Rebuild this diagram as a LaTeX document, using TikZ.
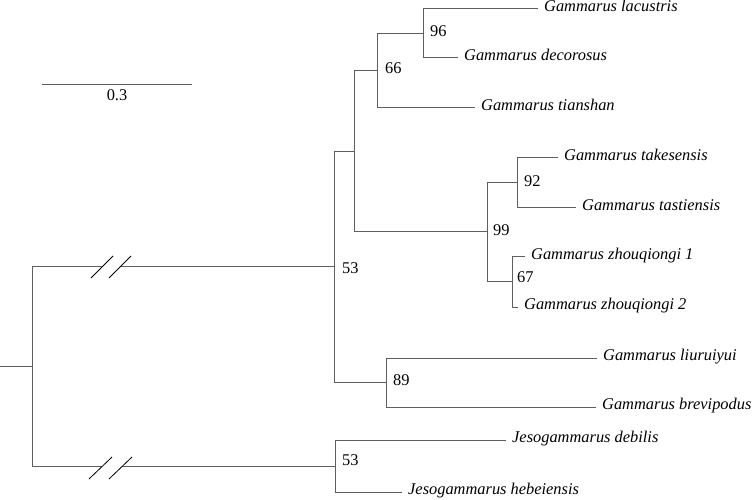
\documentclass[tikz,border=0pt]{standalone}
\usepackage{fontspec}
\usetikzlibrary{calc}
\setmainfont{Liberation Serif}
\definecolor{branch}{RGB}{95,95,95}
\begin{document}
\begin{tikzpicture}[x=1pt,y=-1pt,
  br/.style={draw=branch,line width=1pt},
  brk/.style={draw=black,line width=0.8pt},
  leaf/.style={anchor=west,inner xsep=6pt,inner ysep=0pt,font=\fontsize{16.4}{18}\selectfont\itshape,text height=0.7em,text depth=0.2em},
  boot/.style={anchor=west,inner sep=0pt,font=\fontsize{16.4}{18}\selectfont,text height=0.68em,text depth=0pt},
  lab/.style={inner sep=0pt,font=\fontsize{16.4}{18}\selectfont,text height=0.68em,text depth=0pt}]
\useasboundingbox (0,0) rectangle (756,500);
% internal nodes
\coordinate (start) at (0,366.5);
\coordinate (root) at (32,366.5);
\coordinate (nA) at (334,267);
\coordinate (nJ) at (335,466);
\coordinate (nB) at (354,152);
\coordinate (n66) at (377,70.5);
\coordinate (n96) at (423,33.5);
\coordinate (n99) at (487,232);
\coordinate (n92) at (517,183);
\coordinate (n67) at (512,282);
\coordinate (n89) at (386,382.5);
% break points
\coordinate (ua) at (102,267);
\coordinate (ub) at (120,267);
\coordinate (la) at (102,466);
\coordinate (lb) at (122,466);
\coordinate (s1a) at (91,278);  \coordinate (s1b) at (113,256);
\coordinate (s2a) at (109,278); \coordinate (s2b) at (131,256);
\coordinate (s3a) at (89,479);  \coordinate (s3b) at (112,457);
\coordinate (s4a) at (109,479); \coordinate (s4b) at (132,457);
% leaves
\node[leaf] (lac) at (538,9) {Gammarus lacustris};
\node[leaf] (dec) at (458,58) {Gammarus decorosus};
\node[leaf] (tia) at (475,108) {Gammarus tianshan};
\node[leaf] (tak) at (558,158) {Gammarus takesensis};
\node[leaf] (tas) at (576,208) {Gammarus tastiensis};
\node[leaf] (zq1) at (525,257) {Gammarus zhouqiongi 1};
\node[leaf] (zq2) at (518,307) {Gammarus zhouqiongi 2};
\node[leaf] (liu) at (597,358) {Gammarus liuruiyui};
\node[leaf] (bre) at (596,407) {Gammarus brevipodus};
\node[leaf] (deb) at (506,440) {Jesogammarus debilis};
\node[leaf] (heb) at (402,492) {Jesogammarus hebeiensis};
% branches
\draw[br] (start) -- (root);
\draw[br] (root) |- (ua);
\draw[br] (ub) -- (nA);
\draw[br] (root) |- (la);
\draw[br] (lb) -- (nJ);
\draw[brk] (s1a) -- (s1b);
\draw[brk] (s2a) -- (s2b);
\draw[brk] (s3a) -- (s3b);
\draw[brk] (s4a) -- (s4b);
\draw[br] (nA) |- (nB);
\draw[br] (nA) |- (n89);
\draw[br] (nB) |- (n66);
\draw[br] (nB) |- (n99);
\draw[br] (n66) |- (n96);
\draw[br] (n66) |- (tia.west);
\draw[br] (n96) |- (lac.west);
\draw[br] (n96) |- (dec.west);
\draw[br] (n99) |- (n92);
\draw[br] (n99) |- (n67);
\draw[br] (n92) |- (tak.west);
\draw[br] (n92) |- (tas.west);
\draw[br] (n67) |- (zq1.west);
\draw[br] (n67) |- (zq2.west);
\draw[br] (n89) |- (liu.west);
\draw[br] (n89) |- (bre.west);
\draw[br] (nJ) |- (deb.west);
\draw[br] (nJ) |- (heb.west);
% bootstrap values
\node[boot] (b96) at ($(n96)+(7,0)$) {96};
\node[boot] (b66) at ($(n66)+(8,0)$) {66};
\node[boot] (b53a) at ($(nA)+(8,3)$) {53};
\node[boot] (b99) at ($(n99)+(6,0)$) {99};
\node[boot] (b92) at ($(n92)+(7,0)$) {92};
\node[boot] (b67) at ($(n67)+(5,-3)$) {67};
\node[boot] (b89) at ($(n89)+(7,0)$) {89};
\node[boot] (b53b) at ($(nJ)+(7,-4)$) {53};
% scale bar
\coordinate (sbl) at (42,85);
\coordinate (sbr) at (192,85);
\draw[br] (sbl) -- (sbr);
\node[lab] (sbt) at (117,97) {0.3};
\end{tikzpicture}
\end{document}
